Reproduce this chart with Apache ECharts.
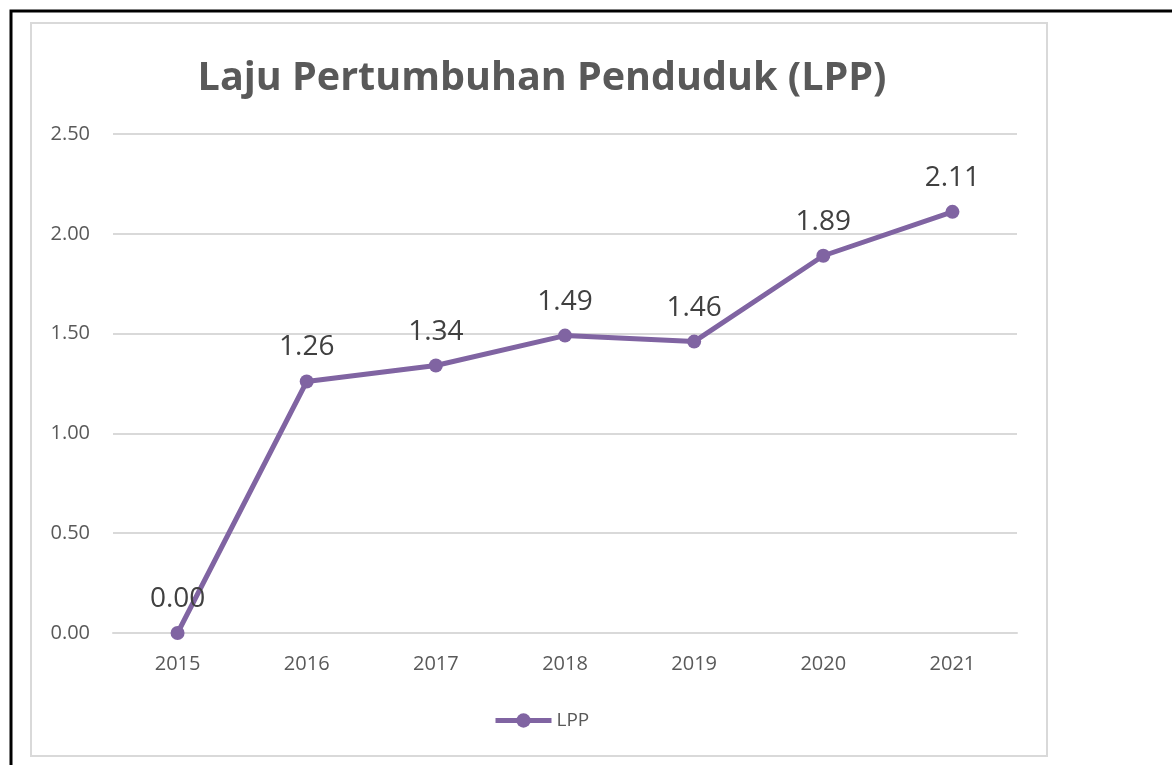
<!DOCTYPE html>
<html>
<head>
<meta charset="utf-8">
<script src="https://cdn.jsdelivr.net/npm/echarts@6/dist/echarts.min.js"></script>
<style>
  html, body { margin: 0; padding: 0; background: #fff; }
  #chart { width: 1172px; height: 765px; }
</style>
</head>
<body>
<div id="chart"></div>
<script>
// data
const years = ['2015', '2016', '2017', '2018', '2019', '2020', '2021']
const lpp = [0.00, 1.26, 1.34, 1.49, 1.46, 1.89, 2.11]
const yTicks = { min: 0, max: 2.5, interval: 0.5 }

const purple = '#8064a2'
const textGrey = '#595959'
const fontFamily = '"Open Sans", "Noto Sans", sans-serif'

const myChart = echarts.init(document.getElementById('chart'))
const option = {
  backgroundColor: '#fff',
  textStyle: { fontFamily: fontFamily },
  graphic: [
    // outer black frame (runs off the right and bottom edges)
    {
      type: 'rect',
      shape: { x: 11, y: 11, width: 1300, height: 900 },
      style: { fill: 'none', stroke: '#000', lineWidth: 3 },
      silent: true
    },
    // chart area border
    {
      type: 'rect',
      shape: { x: 31, y: 23, width: 1016, height: 733 },
      style: { fill: 'none', stroke: '#d9d9d9', lineWidth: 2 },
      silent: true
    }
  ],
  title: {
    text: 'Laju Pertumbuhan Penduduk (LPP)',
    left: 537,
    textAlign: 'center',
    top: 54,
    textStyle: {
      color: textGrey,
      fontSize: 39.5,
      fontWeight: 'bold',
      fontFamily: fontFamily
    }
  },
  legend: {
    data: ['LPP'],
    left: 488,
    top: 706,
    itemWidth: 56,
    itemHeight: 18,
    itemGap: 4,
    lineStyle: { width: 5 },
    textStyle: { color: textGrey, fontSize: 19, fontFamily: fontFamily }
  },
  grid: {
    left: 113,
    right: 155,
    top: 134,
    bottom: 132,
    containLabel: false
  },
  xAxis: {
    type: 'category',
    data: years,
    boundaryGap: true,
    axisLine: { show: true, lineStyle: { color: '#d9d9d9', width: 2 } },
    axisTick: { show: false },
    axisLabel: { color: textGrey, fontSize: 20, margin: 21 }
  },
  yAxis: {
    type: 'value',
    min: yTicks.min,
    max: yTicks.max,
    interval: yTicks.interval,
    axisLine: { show: false },
    axisTick: { show: false },
    axisLabel: {
      color: textGrey,
      fontSize: 20,
      margin: 23,
      formatter: function (v) { return v.toFixed(2) }
    },
    splitLine: { lineStyle: { color: '#d9d9d9', width: 2 } }
  },
  series: [
    {
      name: 'LPP',
      type: 'line',
      data: lpp,
      symbol: 'circle',
      symbolSize: 14,
      lineStyle: { color: purple, width: 5 },
      itemStyle: { color: purple },
      label: {
        show: true,
        position: 'top',
        distance: 13,
        color: '#404040',
        fontSize: 28,
        formatter: function (p) { return p.value.toFixed(2) }
      }
    }
  ]
}
myChart.setOption(option)
window.addEventListener('resize', () => { myChart.resize() })
</script>
</body>
</html>
